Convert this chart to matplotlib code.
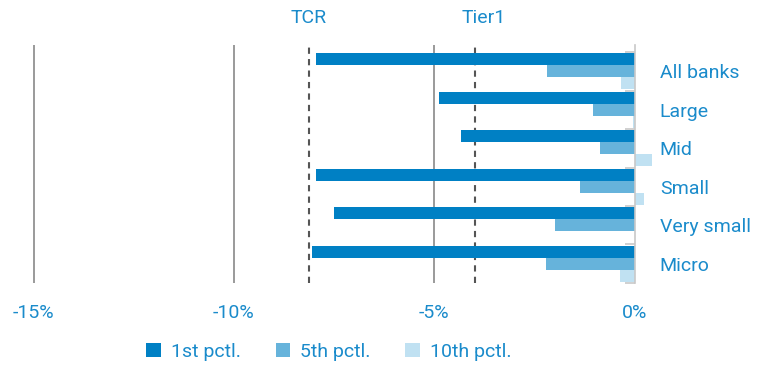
import matplotlib
matplotlib.use("Agg")
import matplotlib.pyplot as plt
import numpy as np
from matplotlib.patches import Patch
from matplotlib.ticker import FixedLocator, FuncFormatter

plt.rcParams["font.family"] = ["Roboto", "DejaVu Sans"]

categories = ["All banks", "Large", "Mid", "Small", "Very small", "Micro"]
pctl_1 = [-7.95, -4.89, -4.34, -7.96, -7.51, -8.06]
pctl_5 = [-2.19, -1.05, -0.87, -1.37, -2.00, -2.22]
pctl_10 = [-0.35, -0.05, 0.42, 0.22, 0.0, -0.37]
series_names = ["1st pctl.", "5th pctl.", "10th pctl."]
thresholds = {"TCR": -8.13, "Tier1": -3.98}
xticks = [-15, -10, -5, 0]

text_blue = "#1a8bcb"
colors = ["#0080c4", "#66b3db", "#c0e1f2"]

fig = plt.figure(figsize=(7.61, 3.66), dpi=100)
ax = fig.add_axes([0.0388, 0.2268, 0.827, 0.650])

y = np.arange(len(categories))
h = 0.31
for i, (vals, col) in enumerate(zip([pctl_1, pctl_5, pctl_10], colors)):
    ax.barh(y + (i - 1) * h, vals, height=h, color=col, zorder=3)

ax.set_xlim(-15.1, 0.6)
ax.set_ylim(len(categories) - 0.5, -0.68)

for v in xticks[:-1]:
    ax.axvline(v, color="#7f7f7f", linewidth=1.1, zorder=1)
trans = ax.get_xaxis_transform()
for name, v in thresholds.items():
    ax.axvline(v, color="#555555", linewidth=1.5, linestyle=(0, (3, 2.5)), zorder=2)
    ax.text(v + (0.2 if name == "Tier1" else 0), 1.113, name, color=text_blue,
            fontsize=14, ha="center", va="center", transform=trans)

for s in ["top", "left", "bottom"]:
    ax.spines[s].set_visible(False)
ax.spines["right"].set_position(("data", 0))
ax.spines["right"].set_color("#c8c8c8")
ax.spines["right"].set_linewidth(1.2)
ax.spines["right"].set_zorder(4)

ax.yaxis.tick_right()
ax.set_yticks(y)
ax.set_yticklabels(categories)
ax.yaxis.set_minor_locator(FixedLocator(np.arange(-0.5, len(categories), 1.0)))
ax.tick_params(axis="y", which="major", length=0, pad=18, labelsize=14,
               labelcolor=text_blue)
ax.tick_params(axis="y", which="minor", direction="in", length=7,
               color="#c8c8c8", width=1.2)

ax.set_xticks(xticks)
ax.xaxis.set_major_formatter(FuncFormatter(lambda v, p: f"{v:.0f}%"))
ax.tick_params(axis="x", length=0, pad=15, labelsize=14, labelcolor=text_blue)

handles = [Patch(facecolor=c, edgecolor="none") for c in colors]
fig.legend(handles, series_names, loc="center", bbox_to_anchor=(0.432, 0.038),
           ncol=3, frameon=False, fontsize=14, labelcolor=text_blue,
           handlelength=0.75, handleheight=0.75, handletextpad=0.5,
           columnspacing=1.8)

fig.savefig("out.png", dpi=100)
